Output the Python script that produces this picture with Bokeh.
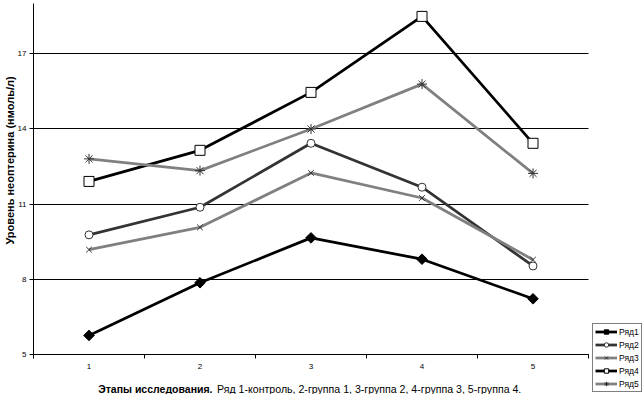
import math
from bokeh.plotting import figure
from bokeh.models import FixedTicker, Range1d, Legend, LegendItem, Label
from bokeh.embed import file_html
from bokeh.resources import INLINE

# ---- data ----
stages = [1, 2, 3, 4, 5]
stage_labels = ["1", "2", "3", "4", "5"]
series_names = ["Ряд1", "Ряд2", "Ряд3", "Ряд4", "Ряд5"]
ryad1 = [5.76, 7.86, 9.65, 8.80, 7.22]
ryad2 = [9.77, 10.87, 13.42, 11.67, 8.53]
ryad3 = [9.18, 10.07, 12.24, 11.24, 8.78]
ryad4 = [11.90, 13.14, 15.45, 18.48, 13.42]
ryad5 = [12.80, 12.33, 13.99, 15.78, 12.22]
y_ticks = [5, 8, 11, 14, 17]
y_min, y_max = 5, 18.99
x_min, x_max = 0.5, 5.5

y_title = "Уровень неоптерина (нмоль/л)"
x_title_bold = "Этапы исследования."
x_title_rest = "Ряд 1-контроль, 2-группа 1, 3-группа 2, 4-группа 3, 5-группа 4."

# ---- layout (pixels) ----
W, H = 644, 394
PX_X = 111.0      # pixels per stage
PX_Y = 25.083     # pixels per unit
PLOT_LEFT, PLOT_BOTTOM = 33, 354

x_lo = x_min - PLOT_LEFT / PX_X
x_hi = x_lo + W / PX_X
y_lo = y_min - (H - PLOT_BOTTOM) / PX_Y
y_hi = y_lo + H / PX_Y

p = figure(width=W, height=H, output_backend="svg", toolbar_location=None,
           x_range=Range1d(x_lo, x_hi), y_range=Range1d(y_lo, y_hi),
           min_border_left=0, min_border_right=0, min_border_top=0,
           min_border_bottom=0)
p.outline_line_color = None
p.background_fill_color = "white"
p.border_fill_color = "white"

TICK_FONT = "Liberation Sans"

# axes, pinned inside the frame
p.xaxis.fixed_location = y_min
p.xaxis.bounds = (x_min, x_max)
p.xaxis.ticker = FixedTicker(ticks=stages, minor_ticks=[0.5, 1.5, 2.5, 3.5, 4.5, 5.5])
p.xaxis.major_label_overrides = {s: l for s, l in zip(stages, stage_labels)}
p.xaxis.major_tick_out = 0
p.xaxis.major_tick_in = 0
p.xaxis.minor_tick_out = 4
p.xaxis.minor_tick_in = 0
p.xaxis.minor_tick_line_color = "black"
p.xaxis.major_label_standoff = 5
p.xaxis.axis_line_color = "black"

p.yaxis.fixed_location = x_min
p.yaxis.bounds = (y_min, y_max)
p.yaxis.ticker = FixedTicker(ticks=y_ticks, minor_ticks=[])
p.yaxis.major_tick_out = 4
p.yaxis.major_tick_in = 0
p.yaxis.minor_tick_out = 0
p.yaxis.minor_tick_in = 0
p.yaxis.major_label_standoff = 3
p.yaxis.axis_line_color = "black"
p.yaxis.major_tick_line_color = "black"

for ax in (p.xaxis, p.yaxis):
    ax.major_label_text_font = TICK_FONT
    ax.major_label_text_font_size = "8px"
    ax.major_label_text_color = "black"

p.xgrid.grid_line_color = None
g = p.ygrid[0]
if "cross_bounds" in g.properties():
    g.ticker = FixedTicker(ticks=y_ticks)
    g.bounds = (y_min, y_max)
    g.cross_bounds = (x_min, x_max)
    g.grid_line_color = "black"
    g.grid_line_width = 1
else:
    g.grid_line_color = None
    p.segment(x0=[x_min] * len(y_ticks), x1=[x_max] * len(y_ticks),
              y0=y_ticks, y1=y_ticks, line_color="black", line_width=1)

LW = 2.75
specs = [
    (ryad1, "black", dict(marker="square", angle=math.pi / 4, size=7.5, fill_color="black", line_color="black")),
    (ryad2, "#333333", dict(marker="circle", size=8, fill_color="white", line_color="#333333", line_width=1)),
    (ryad3, "#808080", dict(marker="x", size=8, line_color="#333333", line_width=1)),
    (ryad4, "black", dict(marker="square", size=10, fill_color="white", line_color="black", line_width=1)),
    (ryad5, "#808080", dict(marker="asterisk", size=10, line_color="#333333", line_width=1)),
]
legend_specs = [
    dict(marker="square", angle=math.pi / 4, size=4.5, fill_color="black", line_color="black"),
    dict(marker="circle", size=6, fill_color="white", line_color="#333333", line_width=1),
    dict(marker="x", size=6, line_color="#333333", line_width=1),
    dict(marker="square", size=7, fill_color="white", line_color="black", line_width=1),
    dict(marker="asterisk", size=6, line_color="#333333", line_width=1),
]

items = []
for (vals, col, mk), lmk, name in zip(specs, legend_specs, series_names):
    p.line(stages, vals, line_color=col, line_width=LW)
    p.scatter(stages, vals, **mk)
    # off-frame proxies used only for the (smaller) legend glyphs
    lr = p.line(x=[-10, -9], y=[-10, -10], line_color=col, line_width=LW)
    ls = p.scatter(x=[-10], y=[-10], **lmk)
    items.append(LegendItem(label=name, renderers=[lr, ls]))

legend = Legend(items=items, location=(592, 2), orientation="vertical",
                glyph_width=22, glyph_height=11, label_height=11, label_width=10,
                spacing=2, padding=2, margin=0, label_standoff=2,
                label_text_font="Liberation Sans", label_text_font_size="8.5px",
                label_text_color="black",
                border_line_color="black", border_line_width=1,
                background_fill_color="white", background_fill_alpha=1)
p.add_layout(legend, "center")

# axis titles
p.add_layout(Label(x=9, y=H - 160, x_units="screen", y_units="screen", text=y_title,
                   angle=math.pi / 2, text_align="center", text_baseline="middle",
                   text_font="Liberation Sans", text_font_style="bold",
                   text_font_size="11px", text_color="black"))
p.add_layout(Label(x=212, y=H - 388.5, x_units="screen", y_units="screen", text=x_title_bold,
                   text_align="right", text_baseline="alphabetic",
                   text_font="Liberation Sans", text_font_style="bold",
                   text_font_size="10.5px", text_color="black"))
p.add_layout(Label(x=216.5, y=H - 388.5, x_units="screen", y_units="screen", text=x_title_rest,
                   text_align="left", text_baseline="alphabetic",
                   text_font="Liberation Sans", text_font_size="10.6px",
                   text_color="black"))

open("out.html", "w").write(file_html(p, INLINE))
